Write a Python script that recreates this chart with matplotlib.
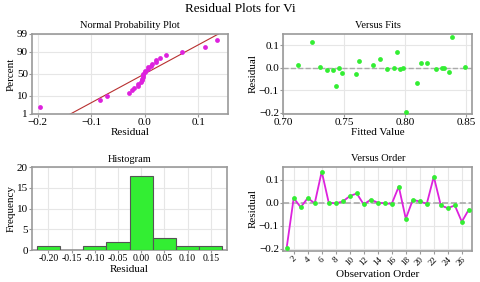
import numpy as np
import matplotlib
matplotlib.use("Agg")
import matplotlib.pyplot as plt
from statistics import NormalDist

# residuals in observation order
residuals = [-0.195, 0.020, -0.020, 0.020, -0.003, 0.135, 0.000, -0.003, 0.005,
             0.028, 0.040, -0.008, 0.013, 0.000, -0.003, -0.005, 0.070, -0.070,
             0.012, 0.005, -0.005, 0.113, -0.012, -0.024, -0.012, -0.083, -0.030]
fitted = [0.801, 0.818, 0.836, 0.813, 0.746, 0.838, 0.830, 0.832, 0.730,
          0.762, 0.779, 0.785, 0.774, 0.791, 0.798, 0.796, 0.793, 0.810,
          0.712, 0.849, 0.825, 0.724, 0.736, 0.748, 0.741, 0.743, 0.760]
hist_edges = [-0.225, -0.175, -0.125, -0.075, -0.025, 0.025, 0.075, 0.125, 0.175]
pct_ticks = [1, 10, 50, 90, 99]
order_ticks = list(range(2, 27, 2))

plt.rcParams['font.family'] = ['Liberation Serif', 'DejaVu Serif']
plt.rcParams['font.size'] = 8

magenta = '#dd22dd'
green = '#33ee33'
grid_c = '#e6e6e6'
edge_c = '#9a9a9a'

nd = NormalDist()
res = np.array(residuals)
n = len(res)


def style(ax):
    ax.grid(True, color=grid_c, lw=0.8)
    ax.set_axisbelow(True)
    for s in ax.spines.values():
        s.set_color(edge_c)
        s.set_linewidth(1.2)
    ax.tick_params(length=2, color=edge_c, labelsize=8, pad=1)


fig = plt.figure(figsize=(4.8, 2.82), dpi=100)
fig.suptitle('Residual Plots for Vi', fontsize=9.5, y=0.99)

# normal probability plot
ax1 = fig.add_axes([0.067, 0.596, 0.408, 0.284])
srt = np.sort(res)
probs = (np.arange(1, n + 1) - 0.3) / (n + 0.4)
z = [nd.inv_cdf(p) for p in probs]
ax1.scatter(srt, z, s=12, color=magenta, zorder=3, lw=0)
mu, sd = res.mean(), res.std(ddof=1)
xl = np.array([-0.25, 0.2])
ax1.plot(xl, (xl - mu) / sd, color='#b83030', lw=0.8, zorder=2)
ax1.set_yticks([nd.inv_cdf(p / 100) for p in pct_ticks])
ax1.set_yticklabels([str(p) for p in pct_ticks])
ax1.set_ylim(nd.inv_cdf(0.01), nd.inv_cdf(0.99))
ax1.set_xlim(-0.21, 0.155)
ax1.set_xticks([-0.2, -0.1, 0.0, 0.1])
ax1.set_title('Normal Probability Plot', fontsize=7.5, pad=4)
ax1.set_xlabel('Residual', fontsize=8, labelpad=1)
ax1.set_ylabel('Percent', fontsize=8, labelpad=1)
style(ax1)

# versus fits
ax2 = fig.add_axes([0.59, 0.596, 0.394, 0.284])
ax2.axhline(0, color='#aaaaaa', ls='--', lw=1, zorder=1)
ax2.scatter(fitted, residuals, s=12, color=green, zorder=3, lw=0)
ax2.set_xlim(0.703, 0.855)
ax2.set_ylim(-0.205, 0.15)
ax2.set_xticks([0.70, 0.75, 0.80, 0.85])
ax2.set_yticks([-0.2, -0.1, 0.0, 0.1])
ax2.set_title('Versus Fits', fontsize=7.5, pad=4)
ax2.set_xlabel('Fitted Value', fontsize=8, labelpad=1)
ax2.set_ylabel('Residual', fontsize=8, labelpad=1)
style(ax2)

# histogram
ax3 = fig.add_axes([0.067, 0.113, 0.406, 0.294])
ax3.hist(residuals, bins=hist_edges, color=green, edgecolor='#555555', lw=0.8, zorder=3)
ax3.set_xlim(-0.235, 0.185)
ax3.set_ylim(0, 20)
ax3.set_yticks([0, 5, 10, 15, 20])
ax3.set_xticks([-0.20, -0.15, -0.10, -0.05, 0.0, 0.05, 0.10, 0.15])
ax3.set_xticklabels(['-0.20', '-0.15', '-0.10', '-0.05', '0.00', '0.05', '0.10', '0.15'])
ax3.set_title('Histogram', fontsize=7.5, pad=4)
ax3.set_xlabel('Residual', fontsize=8, labelpad=1)
ax3.set_ylabel('Frequency', fontsize=8, labelpad=1)
style(ax3)
ax3.tick_params(axis='x', labelsize=7)

# versus order
ax4 = fig.add_axes([0.59, 0.11, 0.394, 0.298])
obs = np.arange(1, n + 1)
ax4.axhline(0, color='#aaaaaa', ls='--', lw=1.2, zorder=1)
ax4.plot(obs, residuals, color=magenta, lw=1.3, zorder=2)
ax4.scatter(obs, residuals, s=12, color=green, zorder=3, lw=0)
ax4.set_xlim(0.5, 27.5)
ax4.set_ylim(-0.21, 0.155)
ax4.set_xticks(order_ticks)
ax4.set_xticklabels([str(t) for t in order_ticks], rotation=45)
ax4.set_yticks([-0.2, -0.1, 0.0, 0.1])
ax4.set_title('Versus Order', fontsize=7.5, pad=4)
ax4.set_xlabel('Observation Order', fontsize=8, labelpad=2)
ax4.set_ylabel('Residual', fontsize=8, labelpad=1)
style(ax4)
ax4.tick_params(axis='x', labelsize=6.5)

fig.savefig('out.png', dpi=100)
